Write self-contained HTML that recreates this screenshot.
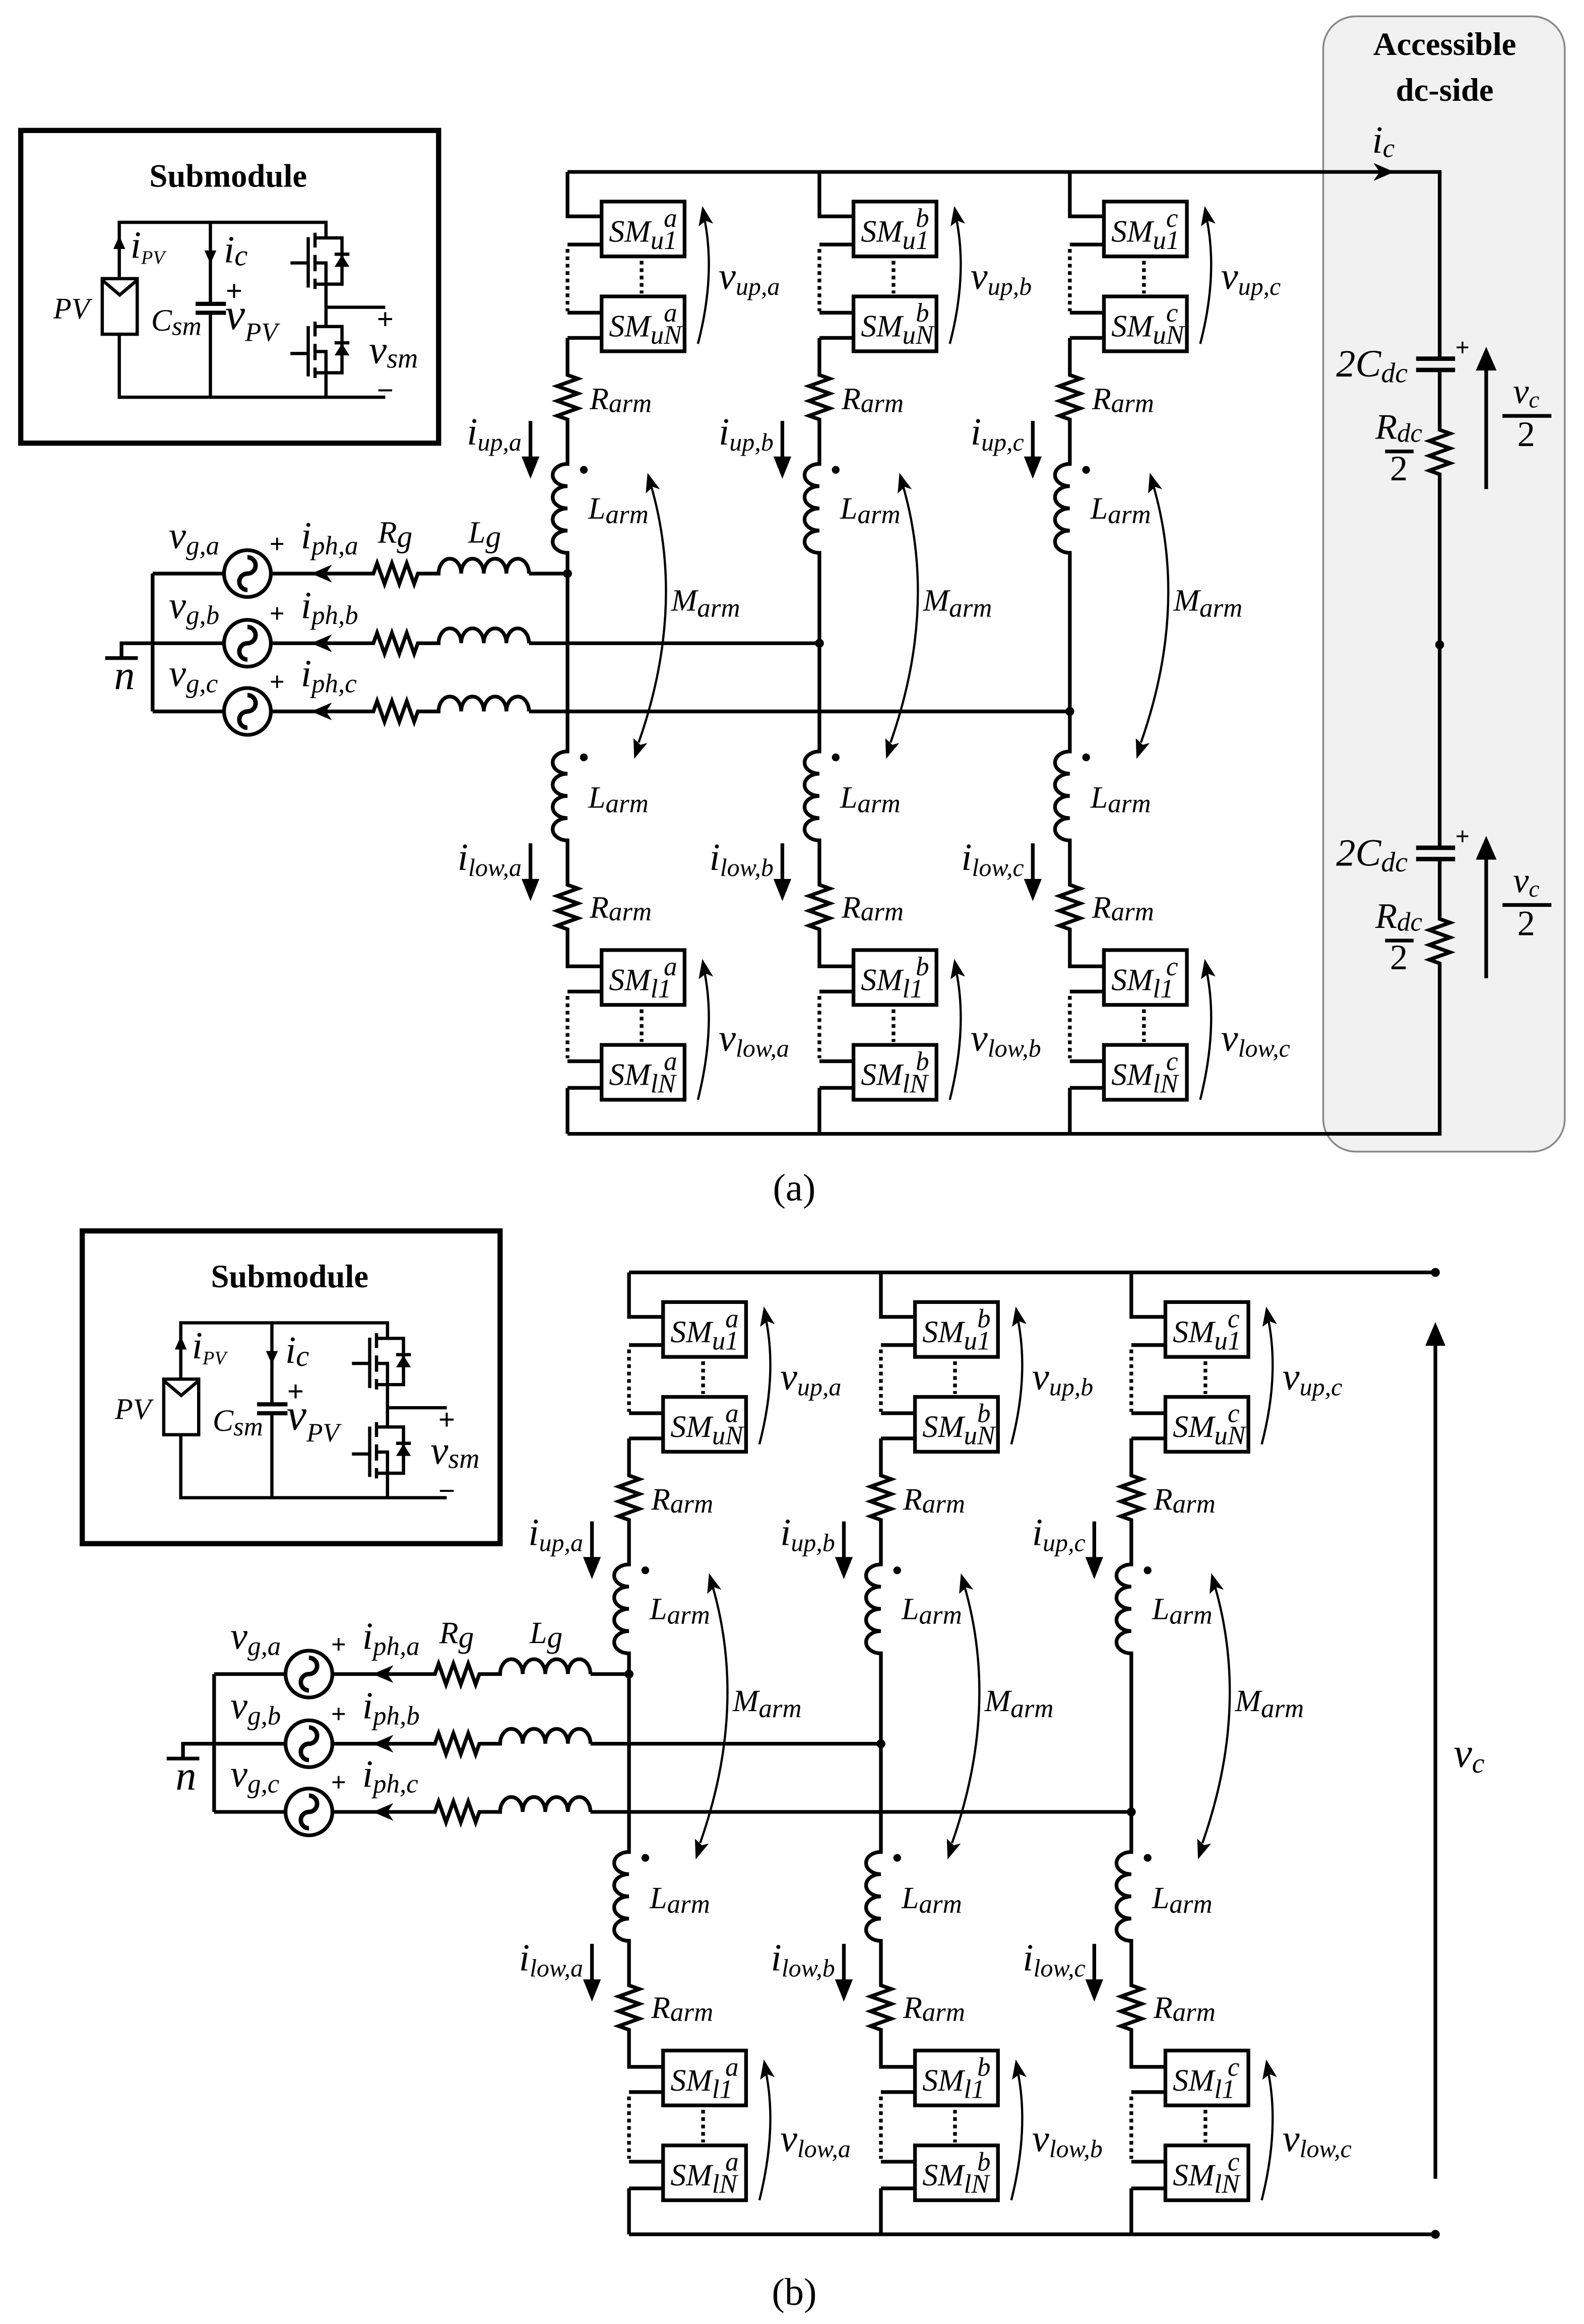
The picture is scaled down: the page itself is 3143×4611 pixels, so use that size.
<!DOCTYPE html>
<html><head><meta charset="utf-8"><style>
html,body{margin:0;padding:0;background:#fff;}
svg{display:block;}
text{font-family:"Liberation Serif","DejaVu Serif",serif;font-style:italic;fill:#000;}
.b{font-style:normal;font-weight:bold;}
.n{font-style:normal;}
</style></head><body>
<svg width="3143" height="4611" viewBox="0 0 1069 1568" preserveAspectRatio="none" xmlns="http://www.w3.org/2000/svg" xmlns:xlink="http://www.w3.org/1999/xlink" font-family="'Liberation Serif','DejaVu Serif',serif">
<defs>
<g id="leg" fill="none" stroke="#000" stroke-width="2.5">
<path d="M0,116 V146 H23 M0,165 H23 M0,211 H23 M0,228 H23 M0,228 V253 l7,2.5 l-14,5 l14,5 l-14,5 l14,5 l-14,5 l7,2.5 V313 a10,7.5 0 0 0 0,15 a10,7.5 0 0 0 0,15 a10,7.5 0 0 0 0,15 a10,7.5 0 0 0 0,15 V507 a10,7.5 0 0 0 0,15 a10,7.5 0 0 0 0,15 a10,7.5 0 0 0 0,15 a10,7.5 0 0 0 0,15 V597 l7,2.5 l-14,5 l14,5 l-14,5 l14,5 l-14,5 l7,2.5 V652 H23 M0,669 H23 M0,716 H23 M0,734 H23 M0,734 V765"/>
<path d="M0,168 V210 M0,672 V714 M50,176 V198 M50,681 V703" stroke-dasharray="2.5,2.5"/>
<rect x="23" y="136" width="56" height="37"/><rect x="23" y="200" width="56" height="37"/>
<rect x="23" y="641" width="56" height="37"/><rect x="23" y="705" width="56" height="37"/>
<path d="M88,232 Q100,186 92.5,148 M88,742 Q100,694 92.5,656" stroke-width="1.5"/>
<path d="M56.5,328 Q80,410 48,501" stroke-width="1.5"/>
<path d="M91,139 L98.3,150.9 L93.4,149 L88.5,152.7 z M91,647 L98.3,658.9 L93.4,657 L88.5,660.7 z M54,319 L62.4,330.1 L57.6,328.5 L52.8,332.9 z M45,512 L53.9,501.3 L49.2,502.5 L44.5,498.1 z" fill="#000" stroke="none"/>
<path d="M-25,284 V310 M-25,569 V595"/>
<path d="M-31,308 L-19,308 L-25,323 z M-31,593 L-19,593 L-25,608 z" fill="#000" stroke="none"/>
<circle cx="11" cy="317" r="2.6" fill="#000" stroke="none"/><circle cx="11" cy="511" r="2.6" fill="#000" stroke="none"/>
</g>
<g id="ph" fill="none" stroke="#000" stroke-width="2.5">
<path d="M183,0 H252 l2.5,-7 l5,14 l5,-14 l5,14 l5,-14 l5,14 l2.5,-7 H296 a7.6,10 0 0 1 15.25,0 a7.6,10 0 0 1 15.25,0 a7.6,10 0 0 1 15.25,0 a7.6,10 0 0 1 15.25,0 M103,0 H151.2"/>
<circle cx="167" cy="0" r="15.8"/>
<path d="M167,-11 a5.5,5.5 0 0 1 0,11 a5.5,5.5 0 0 0 0,11" stroke-width="3"/>
<path d="M210,0 L224,-6 L220,0 L224,6 z" fill="#000" stroke="none"/>
</g>
<g id="sub">
<rect x="14" y="88" width="282" height="211" fill="none" stroke="#000" stroke-width="3.5"/>
<g fill="none" stroke="#000" stroke-width="2.2">
<path d="M80.5,188 V150 H220 V160.5 M142,150 V205 M142,211 V268 M80.5,225.5 V268 H260 M220,191.7 V220.3 M220,207.3 H260 M220,251.5 V268"/>
<path d="M132,205 H152.5 M132,211 H152.5" stroke-width="2.8"/>
<rect x="69" y="188" width="23.6" height="37.5"/>
<path d="M69,189 L80.8,199 L92.6,189"/>
<path d="M212.6,160.5 H230.8 V191.7 H212.6 M212.6,177.4 H220 V191.7 M212.6,157 V167 M212.6,172 V183 M212.6,188 V195 M208,160 V194 M196,177.4 H208"/>
<path d="M212.6,220.3 H230.8 V251.5 H212.6 M212.6,237.2 H220 V251.5 M212.6,217 V227 M212.6,232 V243 M212.6,248 V255 M208,220 V254 M196,238.5 H208"/>
<path d="M225.8,171.5 H235.8 M225.8,231.3 H235.8"/>
</g>
<path d="M230.8,172 L225.8,180 L235.8,180 z M230.8,231.8 L225.8,239.8 L235.8,239.8 z" fill="#000"/>
<path d="M80.5,159 L76.5,168 L84.5,168 z M142,178 L138,169 L146,169 z" fill="#000"/>
<text class="b" x="154" y="126" font-size="22" text-anchor="middle">Submodule</text>
<text x="36" y="215" font-size="20">PV</text>
<text x="88" y="174" font-size="26">i<tspan font-size="13" dy="4">PV</tspan></text>
<text x="151" y="177" font-size="26">i<tspan font-size="20" dy="2">c</tspan></text>
<text class="b n" x="158" y="203" font-size="20" text-anchor="middle">+</text>
<text x="102" y="223" font-size="21">C<tspan font-size="18" dy="3">sm</tspan></text>
<text x="152" y="222" font-size="30">v<tspan font-size="18" dy="8">PV</tspan></text>
<text class="b n" x="260" y="222" font-size="20" text-anchor="middle">+</text>
<text class="b n" x="260" y="270" font-size="20" text-anchor="middle">−</text>
<text x="249" y="245" font-size="27">v<tspan font-size="19" dy="3">sm</tspan></text>
</g>
<g id="grid">
<use xlink:href="#ph" y="387"/><use xlink:href="#ph" y="434"/><use xlink:href="#ph" y="480"/>
<path d="M357,387 H383 M357,434 H553 M357,480 H722 M103,387 V480 M103,434 H82 V444 M71,444 H93 M383,116 H722" stroke="#000" stroke-width="2.5" fill="none"/>
<circle cx="383" cy="387" r="3" fill="#000"/><circle cx="553" cy="434" r="3" fill="#000"/><circle cx="722" cy="480" r="3" fill="#000"/>
<use xlink:href="#leg" x="383"/><use xlink:href="#leg" x="553"/><use xlink:href="#leg" x="722"/>
</g>
</defs>

<!-- ================= (a) ================= -->
<rect x="893" y="11" width="163" height="766" rx="22" fill="#f1f1f1" stroke="#888" stroke-width="1.2"/>
<text class="b" x="975" y="37" font-size="22" text-anchor="middle">Accessible</text>
<text class="b" x="975" y="68" font-size="22" text-anchor="middle">dc-side</text>
<use xlink:href="#sub"/>
<use xlink:href="#grid"/>
<g fill="none" stroke="#000" stroke-width="2.5">
<path d="M722,116 H971.6 V242 M971.6,249.6 V290 l7,2.5 l-14,5 l14,5 l-14,5 l14,5 l-14,5 l7,2.5 V572 M971.6,579.6 V620 l7,2.5 l-14,5 l14,5 l-14,5 l14,5 l-14,5 l7,2.5 V765 H722"/>
<path d="M955.7,242 H982 M955.7,249.6 H982 M955.7,572 H982 M955.7,579.6 H982" stroke-width="3"/>
<path d="M1003,330 V248 M1003,660 V578"/>
<path d="M934.8,304.6 H954 M934.8,634.6 H954 M1014,280.6 H1047 M1014,610.6 H1047"/>
</g>
<path d="M941,116 L927,110 L931,116 L927,122 z M1003,234 L996,250 L1010,250 z M1003,564 L996,580 L1010,580 z" fill="#000"/>
<circle cx="971.6" cy="435" r="3" fill="#000"/>
<text x="926" y="103" font-size="26">i<tspan font-size="18" dy="3">c</tspan></text>
<text class="b n" x="987" y="240" font-size="17" text-anchor="middle">+</text>
<text class="b n" x="987" y="570" font-size="17" text-anchor="middle">+</text>
<text x="950" y="254" font-size="26" text-anchor="end">2C<tspan font-size="19" dy="4">dc</tspan></text>
<text x="950" y="584" font-size="26" text-anchor="end">2C<tspan font-size="19" dy="4">dc</tspan></text>
<text x="944" y="296" font-size="24" text-anchor="middle">R<tspan font-size="18" dy="2">dc</tspan></text>
<text class="n" x="944" y="324" font-size="24" text-anchor="middle">2</text>
<text x="944" y="626" font-size="24" text-anchor="middle">R<tspan font-size="18" dy="2">dc</tspan></text>
<text class="n" x="944" y="654" font-size="24" text-anchor="middle">2</text>
<text x="1030" y="272" font-size="24" text-anchor="middle">v<tspan font-size="16" dy="3">c</tspan></text>
<text class="n" x="1030" y="301" font-size="24" text-anchor="middle">2</text>
<text x="1030" y="602" font-size="24" text-anchor="middle">v<tspan font-size="16" dy="3">c</tspan></text>
<text class="n" x="1030" y="631" font-size="24" text-anchor="middle">2</text>
<text class="n" x="536" y="810" font-size="26" text-anchor="middle">(a)</text>

<g>
<text x="114" y="370" font-size="26">v<tspan font-size="18" dy="4">g,a</tspan></text>
<text x="114" y="417" font-size="26">v<tspan font-size="18" dy="4">g,b</tspan></text>
<text x="114" y="463" font-size="26">v<tspan font-size="18" dy="4">g,c</tspan></text>
<text class="b n" x="187" y="373" font-size="18" text-anchor="middle">+</text>
<text class="b n" x="187" y="420" font-size="18" text-anchor="middle">+</text>
<text class="b n" x="187" y="466" font-size="18" text-anchor="middle">+</text>
<text x="203" y="370" font-size="26">i<tspan font-size="18" dy="4">ph,a</tspan></text>
<text x="203" y="417" font-size="26">i<tspan font-size="18" dy="4">ph,b</tspan></text>
<text x="203" y="463" font-size="26">i<tspan font-size="18" dy="4">ph,c</tspan></text>
<text x="255" y="366" font-size="21">R<tspan font-size="21" dy="3">g</tspan></text>
<text x="316" y="366" font-size="21">L<tspan font-size="21" dy="3">g</tspan></text>
<text x="84" y="465" font-size="28" text-anchor="middle">n</text>
<g font-size="21">
<text x="411" y="163">SM</text><text x="448" y="153" font-size="18">a</text><text x="439" y="168" font-size="18">u1</text>
<text x="411" y="227">SM</text><text x="448" y="217" font-size="18">a</text><text x="439" y="232" font-size="18">uN</text>
<text x="411" y="668">SM</text><text x="448" y="658" font-size="18">a</text><text x="439" y="673" font-size="18">l1</text>
<text x="411" y="732">SM</text><text x="448" y="722" font-size="18">a</text><text x="439" y="737" font-size="18">lN</text>
<text x="581" y="163">SM</text><text x="618" y="153" font-size="18">b</text><text x="609" y="168" font-size="18">u1</text>
<text x="581" y="227">SM</text><text x="618" y="217" font-size="18">b</text><text x="609" y="232" font-size="18">uN</text>
<text x="581" y="668">SM</text><text x="618" y="658" font-size="18">b</text><text x="609" y="673" font-size="18">l1</text>
<text x="581" y="732">SM</text><text x="618" y="722" font-size="18">b</text><text x="609" y="737" font-size="18">lN</text>
<text x="750" y="163">SM</text><text x="787" y="153" font-size="18">c</text><text x="778" y="168" font-size="18">u1</text>
<text x="750" y="227">SM</text><text x="787" y="217" font-size="18">c</text><text x="778" y="232" font-size="18">uN</text>
<text x="750" y="668">SM</text><text x="787" y="658" font-size="18">c</text><text x="778" y="673" font-size="18">l1</text>
<text x="750" y="732">SM</text><text x="787" y="722" font-size="18">c</text><text x="778" y="737" font-size="18">lN</text>
</g>
<text x="485" y="195" font-size="26">v<tspan font-size="17" dy="4">up,a</tspan></text>
<text x="655" y="195" font-size="26">v<tspan font-size="17" dy="4">up,b</tspan></text>
<text x="824" y="195" font-size="26">v<tspan font-size="17" dy="4">up,c</tspan></text>
<text x="485" y="709" font-size="26">v<tspan font-size="17" dy="4">low,a</tspan></text>
<text x="655" y="709" font-size="26">v<tspan font-size="17" dy="4">low,b</tspan></text>
<text x="824" y="709" font-size="26">v<tspan font-size="17" dy="4">low,c</tspan></text>
<text x="398" y="276" font-size="21">R<tspan font-size="18" dy="2">arm</tspan></text>
<text x="568" y="276" font-size="21">R<tspan font-size="18" dy="2">arm</tspan></text>
<text x="737" y="276" font-size="21">R<tspan font-size="18" dy="2">arm</tspan></text>
<text x="398" y="619" font-size="21">R<tspan font-size="18" dy="2">arm</tspan></text>
<text x="568" y="619" font-size="21">R<tspan font-size="18" dy="2">arm</tspan></text>
<text x="737" y="619" font-size="21">R<tspan font-size="18" dy="2">arm</tspan></text>
<text x="397" y="350" font-size="21">L<tspan font-size="18" dy="3">arm</tspan></text>
<text x="567" y="350" font-size="21">L<tspan font-size="18" dy="3">arm</tspan></text>
<text x="736" y="350" font-size="21">L<tspan font-size="18" dy="3">arm</tspan></text>
<text x="397" y="545" font-size="21">L<tspan font-size="18" dy="3">arm</tspan></text>
<text x="567" y="545" font-size="21">L<tspan font-size="18" dy="3">arm</tspan></text>
<text x="736" y="545" font-size="21">L<tspan font-size="18" dy="3">arm</tspan></text>
<text x="453" y="412" font-size="21">M<tspan font-size="18" dy="4">arm</tspan></text>
<text x="623" y="412" font-size="21">M<tspan font-size="18" dy="4">arm</tspan></text>
<text x="792" y="412" font-size="21">M<tspan font-size="18" dy="4">arm</tspan></text>
<text x="352" y="300" font-size="26" text-anchor="end">i<tspan font-size="17" dy="4">up,a</tspan></text>
<text x="522" y="300" font-size="26" text-anchor="end">i<tspan font-size="17" dy="4">up,b</tspan></text>
<text x="691" y="300" font-size="26" text-anchor="end">i<tspan font-size="17" dy="4">up,c</tspan></text>
<text x="352" y="587" font-size="26" text-anchor="end">i<tspan font-size="17" dy="4">low,a</tspan></text>
<text x="522" y="587" font-size="26" text-anchor="end">i<tspan font-size="17" dy="4">low,b</tspan></text>
<text x="691" y="587" font-size="26" text-anchor="end">i<tspan font-size="17" dy="4">low,c</tspan></text>
</g>
<path d="M383,765 H722" stroke="#000" stroke-width="2.5"/>

<!-- ================= (b) ================= -->
<g transform="translate(41.5,742.5)">
<use xlink:href="#sub"/>
<use xlink:href="#grid"/>
<path d="M383,765 H722" stroke="#000" stroke-width="2.5"/>
<text x="114" y="370" font-size="26">v<tspan font-size="18" dy="4">g,a</tspan></text>
<text x="114" y="417" font-size="26">v<tspan font-size="18" dy="4">g,b</tspan></text>
<text x="114" y="463" font-size="26">v<tspan font-size="18" dy="4">g,c</tspan></text>
<text class="b n" x="187" y="373" font-size="18" text-anchor="middle">+</text>
<text class="b n" x="187" y="420" font-size="18" text-anchor="middle">+</text>
<text class="b n" x="187" y="466" font-size="18" text-anchor="middle">+</text>
<text x="203" y="370" font-size="26">i<tspan font-size="18" dy="4">ph,a</tspan></text>
<text x="203" y="417" font-size="26">i<tspan font-size="18" dy="4">ph,b</tspan></text>
<text x="203" y="463" font-size="26">i<tspan font-size="18" dy="4">ph,c</tspan></text>
<text x="255" y="366" font-size="21">R<tspan font-size="21" dy="3">g</tspan></text>
<text x="316" y="366" font-size="21">L<tspan font-size="21" dy="3">g</tspan></text>
<text x="84" y="465" font-size="28" text-anchor="middle">n</text>
<g font-size="21">
<text x="411" y="163">SM</text><text x="448" y="153" font-size="18">a</text><text x="439" y="168" font-size="18">u1</text>
<text x="411" y="227">SM</text><text x="448" y="217" font-size="18">a</text><text x="439" y="232" font-size="18">uN</text>
<text x="411" y="668">SM</text><text x="448" y="658" font-size="18">a</text><text x="439" y="673" font-size="18">l1</text>
<text x="411" y="732">SM</text><text x="448" y="722" font-size="18">a</text><text x="439" y="737" font-size="18">lN</text>
<text x="581" y="163">SM</text><text x="618" y="153" font-size="18">b</text><text x="609" y="168" font-size="18">u1</text>
<text x="581" y="227">SM</text><text x="618" y="217" font-size="18">b</text><text x="609" y="232" font-size="18">uN</text>
<text x="581" y="668">SM</text><text x="618" y="658" font-size="18">b</text><text x="609" y="673" font-size="18">l1</text>
<text x="581" y="732">SM</text><text x="618" y="722" font-size="18">b</text><text x="609" y="737" font-size="18">lN</text>
<text x="750" y="163">SM</text><text x="787" y="153" font-size="18">c</text><text x="778" y="168" font-size="18">u1</text>
<text x="750" y="227">SM</text><text x="787" y="217" font-size="18">c</text><text x="778" y="232" font-size="18">uN</text>
<text x="750" y="668">SM</text><text x="787" y="658" font-size="18">c</text><text x="778" y="673" font-size="18">l1</text>
<text x="750" y="732">SM</text><text x="787" y="722" font-size="18">c</text><text x="778" y="737" font-size="18">lN</text>
</g>
<text x="485" y="195" font-size="26">v<tspan font-size="17" dy="4">up,a</tspan></text>
<text x="655" y="195" font-size="26">v<tspan font-size="17" dy="4">up,b</tspan></text>
<text x="824" y="195" font-size="26">v<tspan font-size="17" dy="4">up,c</tspan></text>
<text x="485" y="709" font-size="26">v<tspan font-size="17" dy="4">low,a</tspan></text>
<text x="655" y="709" font-size="26">v<tspan font-size="17" dy="4">low,b</tspan></text>
<text x="824" y="709" font-size="26">v<tspan font-size="17" dy="4">low,c</tspan></text>
<text x="398" y="276" font-size="21">R<tspan font-size="18" dy="2">arm</tspan></text>
<text x="568" y="276" font-size="21">R<tspan font-size="18" dy="2">arm</tspan></text>
<text x="737" y="276" font-size="21">R<tspan font-size="18" dy="2">arm</tspan></text>
<text x="398" y="619" font-size="21">R<tspan font-size="18" dy="2">arm</tspan></text>
<text x="568" y="619" font-size="21">R<tspan font-size="18" dy="2">arm</tspan></text>
<text x="737" y="619" font-size="21">R<tspan font-size="18" dy="2">arm</tspan></text>
<text x="397" y="350" font-size="21">L<tspan font-size="18" dy="3">arm</tspan></text>
<text x="567" y="350" font-size="21">L<tspan font-size="18" dy="3">arm</tspan></text>
<text x="736" y="350" font-size="21">L<tspan font-size="18" dy="3">arm</tspan></text>
<text x="397" y="545" font-size="21">L<tspan font-size="18" dy="3">arm</tspan></text>
<text x="567" y="545" font-size="21">L<tspan font-size="18" dy="3">arm</tspan></text>
<text x="736" y="545" font-size="21">L<tspan font-size="18" dy="3">arm</tspan></text>
<text x="453" y="412" font-size="21">M<tspan font-size="18" dy="4">arm</tspan></text>
<text x="623" y="412" font-size="21">M<tspan font-size="18" dy="4">arm</tspan></text>
<text x="792" y="412" font-size="21">M<tspan font-size="18" dy="4">arm</tspan></text>
<text x="352" y="300" font-size="26" text-anchor="end">i<tspan font-size="17" dy="4">up,a</tspan></text>
<text x="522" y="300" font-size="26" text-anchor="end">i<tspan font-size="17" dy="4">up,b</tspan></text>
<text x="691" y="300" font-size="26" text-anchor="end">i<tspan font-size="17" dy="4">up,c</tspan></text>
<text x="352" y="587" font-size="26" text-anchor="end">i<tspan font-size="17" dy="4">low,a</tspan></text>
<text x="522" y="587" font-size="26" text-anchor="end">i<tspan font-size="17" dy="4">low,b</tspan></text>
<text x="691" y="587" font-size="26" text-anchor="end">i<tspan font-size="17" dy="4">low,c</tspan></text>
</g>
<path d="M763.5,858.5 H968.7 M763.5,1507.5 H968.7 M968.7,1470 V906" stroke="#000" stroke-width="2.5" fill="none"/>
<path d="M968.7,892 L961.9,908 L975.5,908 z" fill="#000"/>
<circle cx="968.7" cy="858.5" r="3" fill="#000"/><circle cx="968.7" cy="1507.5" r="3" fill="#000"/>
<text x="981" y="1192" font-size="28">v<tspan font-size="19" dy="4">c</tspan></text>
<text class="n" x="536" y="1555" font-size="26" text-anchor="middle">(b)</text>
</svg>
</body></html>
